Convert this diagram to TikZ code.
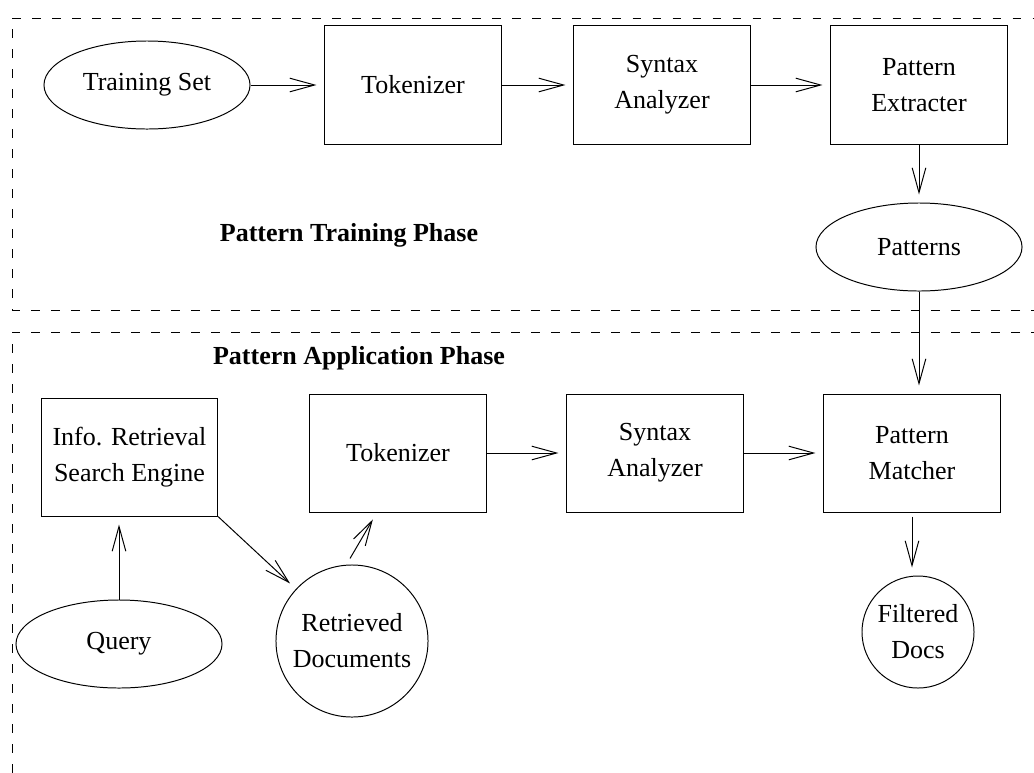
\documentclass[tikz,border=0pt]{standalone}
\usepackage{fontspec}
\setmainfont{Liberation Serif}
\usetikzlibrary{arrows.meta,shapes.geometric}

\tikzset{
  every node/.style={font=\fontsize{18.5}{25.6}\selectfont, align=center, line width=0.7pt},
  block/.style={draw, rectangle, minimum width=4.4cm, minimum height=2.95cm, inner sep=0pt},
  data/.style={draw, ellipse, minimum width=5.15cm, minimum height=2.2cm, inner sep=0pt},
  docs/.style={draw, circle, inner sep=0pt},
  arr/.style={-{Straight Barb[length=0.62cm, width=0.34cm]}, line width=0.7pt, shorten >=0.2cm},
  phase/.style={dash pattern=on 0.22cm off 0.28cm, line width=0.7pt},
  title/.style={font=\fontsize{18.5}{22}\selectfont\bfseries}
}

\begin{document}
\begin{tikzpicture}[x=0.025cm, y=-0.025cm]
  \path[use as bounding box, clip] (0,0) rectangle (1034,772);

  % phase boxes
  \draw[phase] (1040,310) -- (12,310) -- (12,18) -- (1040,18);
  \draw[phase] (1040,332) -- (12,332) -- (12,780);
  \node[title] (trainlbl) at (349,235) {Pattern Training Phase};
  \node[title] (applylbl) at (359,358) {Pattern Application Phase};

  % training
  \node[data] (trainset) at (147,85) {Training Set};
  \node[block] (tok1) at (413,85) {Tokenizer};
  \node[block] (syn1) at (662,85) {Syntax\\Analyzer};
  \node[block] (ext) at (919,85) {Pattern\\Extracter};
  \node[data] (pat) at (919,247) {Patterns};

  \draw[arr] (trainset) -- (tok1);
  \draw[arr] (tok1) -- (syn1);
  \draw[arr] (syn1) -- (ext);
  \draw[arr] (ext) -- (pat);

  % application
  \node[block] (irse) at (129.5,457) {Info. Retrieval\\Search Engine};
  \node[data] (query) at (119,644) {Query};
  \node[docs, minimum size=3.8cm] (ret) at (352,641) {Retrieved\\Documents};
  \node[block] (tok2) at (398,453) {Tokenizer};
  \node[block] (syn2) at (655,453) {Syntax\\Analyzer};
  \node[block] (mat) at (912,453) {Pattern\\Matcher};
  \node[docs, minimum size=2.8cm] (filt) at (918,632) {Filtered\\Docs};

  \draw[arr] (pat.south) -- (pat.south |- mat.north);
  \draw[arr] (query.north) -- (query.north |- irse.south);
  \draw[arr] (irse.south east) -- (ret);
  \draw[arr] ([shift={(-2,-6)}]ret.north) -- ([xshift=-15]tok2.south);
  \draw[arr] (tok2) -- (syn2);
  \draw[arr] (syn2) -- (mat);
  \draw[arr, shorten <=0.1cm] (mat.south) -- (mat.south |- filt.north);
\end{tikzpicture}
\end{document}
